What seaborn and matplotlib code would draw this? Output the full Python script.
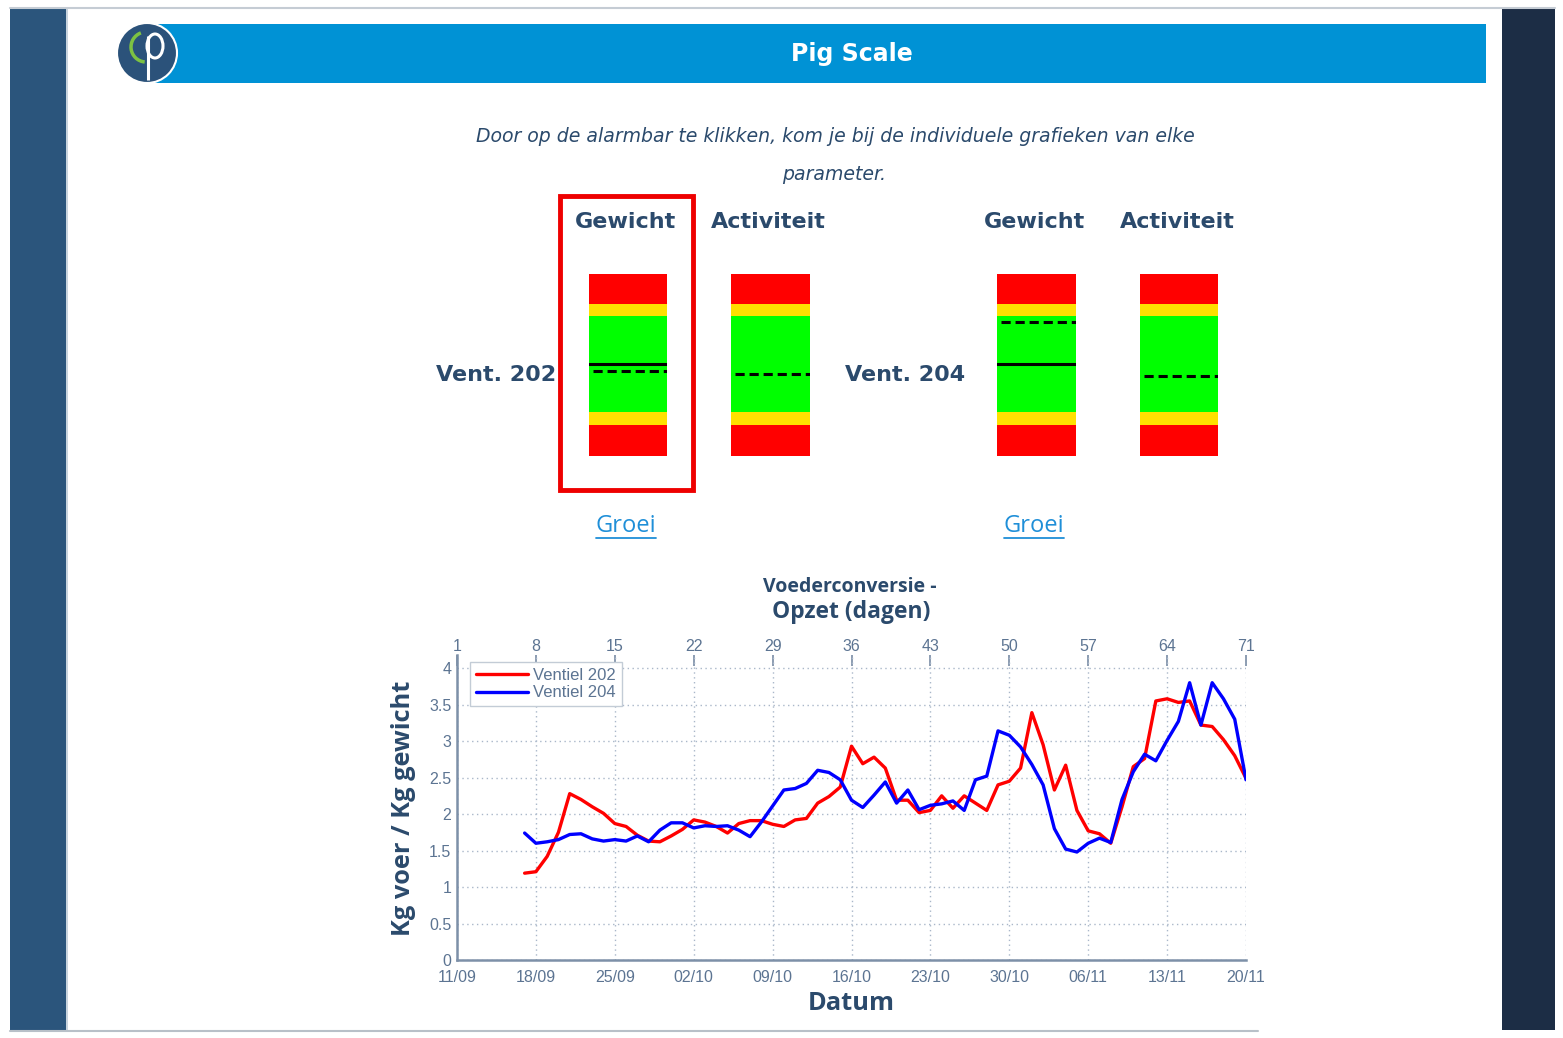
import numpy as np
import pandas as pd
import matplotlib
matplotlib.use("Agg")
import matplotlib.pyplot as plt
import seaborn as sns
from matplotlib.patches import Rectangle, Circle, Arc, Ellipse
from matplotlib.lines import Line2D

# ---------------- data ----------------
days = list(range(7, 72))
ventiel_202 = [1.19, 1.21, 1.42, 1.75, 2.28, 2.20, 2.10, 2.01, 1.87, 1.83,
               1.71, 1.63, 1.62, 1.70, 1.79, 1.92, 1.89, 1.83, 1.74, 1.87,
               1.91, 1.91, 1.86, 1.83, 1.92, 1.94, 2.15, 2.24, 2.37, 2.93,
               2.69, 2.78, 2.63, 2.19, 2.19, 2.02, 2.05, 2.25, 2.08, 2.25,
               2.15, 2.05, 2.40, 2.45, 2.63, 3.39, 2.95, 2.33, 2.67, 2.05,
               1.77, 1.73, 1.60, 2.10, 2.65, 2.76, 3.55, 3.58, 3.53, 3.55,
               3.22, 3.20, 3.02, 2.80, 2.49]
ventiel_204 = [1.74, 1.60, 1.62, 1.65, 1.72, 1.73, 1.66, 1.63, 1.65, 1.63,
               1.70, 1.62, 1.78, 1.88, 1.88, 1.81, 1.84, 1.83, 1.84, 1.78,
               1.69, 1.89, 2.11, 2.33, 2.35, 2.42, 2.60, 2.57, 2.47, 2.19,
               2.09, 2.26, 2.44, 2.15, 2.33, 2.06, 2.12, 2.14, 2.18, 2.05,
               2.47, 2.52, 3.14, 3.08, 2.92, 2.68, 2.40, 1.80, 1.52, 1.48,
               1.60, 1.67, 1.61, 2.20, 2.58, 2.82, 2.73, 3.01, 3.27, 3.80,
               3.22, 3.80, 3.58, 3.30, 2.47]
series_names = ["Ventiel 202", "Ventiel 204"]
top_ticks = [1, 8, 15, 22, 29, 36, 43, 50, 57, 64, 71]
date_labels = ["11/09", "18/09", "25/09", "02/10", "09/10", "16/10",
               "23/10", "30/10", "06/11", "13/11", "20/11"]
y_ticks = [0, 0.5, 1, 1.5, 2, 2.5, 3, 3.5, 4]
y_labels = ["0", "0.5", "1", "1.5", "2", "2.5", "3", "3.5", "4"]

# alarm bars (scale 0-100, bottom to top)
band_edges = [0, 17, 24, 77, 83.5, 100]
band_colors = ["#ff0000", "#ffe000", "#00ff00", "#ffe000", "#ff0000"]
bar_names = ["Gewicht", "Activiteit", "Gewicht", "Activiteit"]
bar_solid = [50.5, None, 50.5, None]
bar_dashed = [46.7, 45.0, 73.6, 44.0]
vent_labels = ["Vent. 202", "Vent. 204"]

# ---------------- layout helpers ----------------
W, H = 1563, 1038
sns.set_theme(style="white")
plt.rcParams["font.family"] = ["DejaVu Sans"]
fig = plt.figure(figsize=(W / 100, H / 100), dpi=100)
fig.patch.set_facecolor("white")

def fx(x):
    return x / W

def fy(y):
    return 1 - y / H

def rect(x0, y0, x1, y1, zorder=-5, **kw):
    fig.patches.append(Rectangle((fx(x0), fy(y1)), (x1 - x0) / W, (y1 - y0) / H,
                                 transform=fig.transFigure, zorder=zorder, **kw))

def hline(x0, x1, y, **kw):
    fig.lines.append(Line2D([fx(x0), fx(x1)], [fy(y), fy(y)],
                            transform=fig.transFigure, **kw))

TXT = "#2b4a6c"

# page frame
hline(10, 1555, 8, color="#c5ccd4", lw=1.5)
hline(10, 1258, 1031, color="#b8c0c8", lw=1.5)
rect(10, 9, 66, 1030, facecolor="#2b557c", edgecolor="none")
rect(66, 9, 68, 1030, facecolor="#c9d4de", edgecolor="none")
rect(1502, 9, 1555, 1030, facecolor="#1c2d45", edgecolor="none")

# header bar
rect(150, 24, 1486, 83, facecolor="#0092d5", edgecolor="none")
fig.text(fx(852), fy(54), "Pig Scale", color="white", fontsize=17,
         fontweight="bold", ha="center", va="center")

# logo
lax = fig.add_axes([fx(110), fy(90), 75 / W, 72 / H])
lax.set_xlim(110, 185)
lax.set_ylim(90, 18)
lax.axis("off")
lax.add_patch(Circle((147, 53), 30, facecolor="#2b527a", edgecolor="white", lw=1.5))
lax.add_patch(Arc((146, 47), 30, 30, theta1=95, theta2=250, color="#7dc242", lw=2.5))
lax.plot([148, 148], [36, 80], color="white", lw=2.2, solid_capstyle="butt")
lax.add_patch(Ellipse((155, 46), 16, 24, facecolor="none", edgecolor="white", lw=2.2))

# intro text
fig.text(fx(835), fy(136),
         "Door op de alarmbar te klikken, kom je bij de individuele grafieken van elke",
         color=TXT, fontsize=13.6, style="italic", ha="center", va="center")
fig.text(fx(834), fy(175), "parameter.", color=TXT, fontsize=13.6, style="italic",
         ha="center", va="center")

# alarm bars
bar_x = [(589, 667), (731, 810), (997, 1076), (1140, 1218)]
for i, (x0, x1) in enumerate(bar_x):
    fig.text(fx((x0 + x1) / 2 - 2), fy(222), bar_names[i], color=TXT, fontsize=16,
             fontweight="bold", ha="center", va="center")
    bax = fig.add_axes([fx(x0), fy(456), (x1 - x0) / W, (456 - 274) / H])
    bottoms = band_edges[:-1]
    heights = [band_edges[k + 1] - band_edges[k] for k in range(len(bottoms))]
    bax.bar([0.5] * len(bottoms), heights, bottom=bottoms, width=1.0,
            color=band_colors, edgecolor="none")
    bax.set_xlim(0, 1)
    bax.set_ylim(0, 100)
    bax.axis("off")
    if bar_solid[i] is not None:
        bax.axhline(bar_solid[i], color="black", lw=2.2)
    bax.axhline(bar_dashed[i], xmin=0.05, xmax=1, color="black", lw=2.2,
                ls=(0, (3, 1.6)))

fig.text(fx(496), fy(375), vent_labels[0], color=TXT, fontsize=16,
         fontweight="bold", ha="center", va="center")
fig.text(fx(905), fy(375), vent_labels[1], color=TXT, fontsize=16,
         fontweight="bold", ha="center", va="center")

# red selection box
rect(560, 196, 693, 490, zorder=5, facecolor="none", edgecolor="#ee0000", lw=3.5)

# Groei links
for xc in (626, 1034):
    fig.text(fx(xc), fy(526), "Groei", color="#1f8fd8", fontsize=17,
             ha="center", va="center", family="Open Sans")
    hline(xc - 30, xc + 30, 538, color="#1f8fd8", lw=1.3)

# ---------------- main chart ----------------
df = pd.DataFrame({
    "dag": days * 2,
    "fcr": ventiel_202 + ventiel_204,
    "ventiel": [series_names[0]] * len(days) + [series_names[1]] * len(days),
})

ax = fig.add_axes([fx(457), fy(960), (1246 - 457) / W, (960 - 655) / H])
sns.lineplot(data=df, x="dag", y="fcr", hue="ventiel",
             palette={series_names[0]: "#ff0000", series_names[1]: "#0000ff"},
             linewidth=2.4, ax=ax)
ax.set_xlim(1, 71)
ax.set_ylim(0, 4.18)
ax.set_facecolor("white")

AX = "#7d90a8"
TICK = "#5c7492"
for s in ("top", "right"):
    ax.spines[s].set_visible(False)
for s in ("left", "bottom"):
    ax.spines[s].set_color(AX)
    ax.spines[s].set_linewidth(1.8)

ax.set_xticks(top_ticks)
ax.set_xticklabels(date_labels, fontsize=11.5, color=TICK, family="Liberation Sans")
ax.set_yticks(y_ticks)
ax.set_yticklabels(y_labels, fontsize=11.5, color=TICK, family="Liberation Sans")
ax.tick_params(axis="x", direction="in", length=6, color=AX, pad=7)
ax.tick_params(axis="y", direction="in", length=0, pad=4)
ax.grid(True, color="#a9b7c9", linestyle=(0, (1, 2.5)), lw=1.0)

ax2 = ax.secondary_xaxis("top")
ax2.set_xticks(top_ticks)
ax2.set_xticklabels([str(d) for d in top_ticks], fontsize=11.5, color=TICK,
                    family="Liberation Sans")
ax2.tick_params(axis="x", direction="in", length=8, color=AX, pad=1)
ax2.spines["top"].set_visible(False)

ax.set_xlabel("")
ax.set_ylabel("")
fig.text(fx(403), fy(808), "Kg voer / Kg gewicht", rotation=90, color=TXT,
         fontsize=18.3, fontweight="bold", ha="center", va="center",
         family="Open Sans")
fig.text(fx(851), fy(1003), "Datum", color=TXT, fontsize=18.3, fontweight="bold",
         ha="center", va="center", family="Open Sans")
fig.text(fx(850), fy(587), "Voederconversie -", color=TXT, fontsize=14,
         fontweight="bold", ha="center", va="center", family="Open Sans")
fig.text(fx(851), fy(612), "Opzet (dagen)", color=TXT, fontsize=16.5,
         fontweight="bold", ha="center", va="center", family="Open Sans")

leg = ax.legend(loc="upper left", bbox_to_anchor=(fx(470), fy(662)),
                bbox_transform=fig.transFigure, frameon=True, fancybox=False,
                edgecolor="#c3ccd6", facecolor="white", framealpha=1,
                borderaxespad=0, handlelength=3.1, handletextpad=0.35,
                borderpad=0.35, labelspacing=0.15,
                prop={"family": "Liberation Sans", "size": 12})
for t in leg.get_texts():
    t.set_color(TICK)
for l in leg.get_lines():
    l.set_linewidth(2.4)

fig.savefig("out.png", dpi=100)
